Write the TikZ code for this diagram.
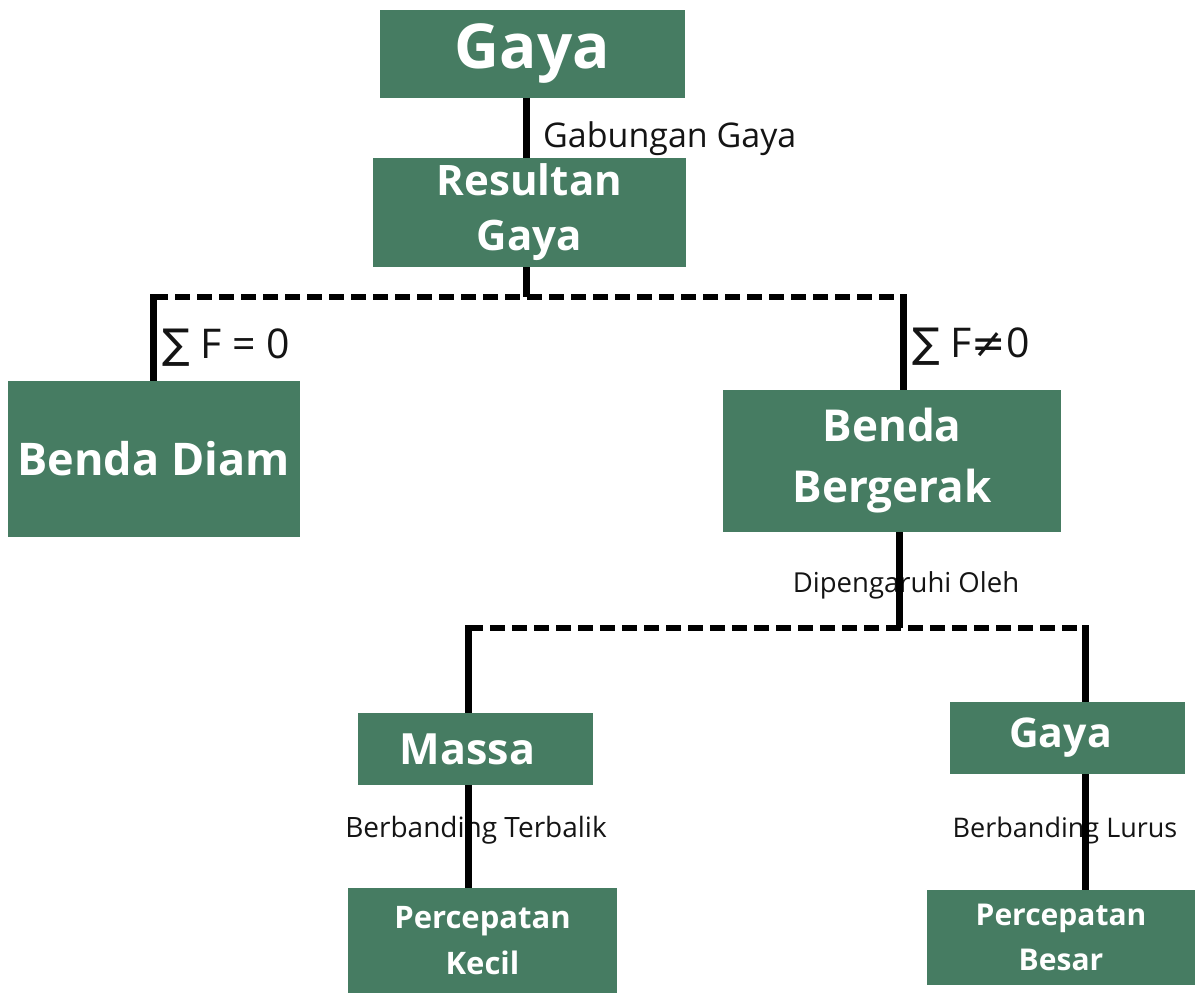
\documentclass[tikz,border=0pt]{standalone}
\usepackage{fontspec}
\setmainfont{Open Sans}
\newfontfamily\symfont{DejaVu Sans}
\definecolor{boxgreen}{RGB}{70,124,98}
\definecolor{inkblack}{RGB}{20,20,20}
\tikzset{
  box/.style={rectangle, fill=boxgreen, text=white, inner sep=0pt, align=center, font=\bfseries},
  lbl/.style={inner sep=0pt, text=inkblack},
  stem/.style={line width=7pt, black},
  bar/.style={line width=6.5pt, black, dash pattern=on 15pt off 7pt}
}

\begin{document}
\begin{tikzpicture}[x=1pt, y=-1pt]
  \useasboundingbox (0,0) rectangle (1196,997);
  \coordinate (j1)  at (526, 297);
  \coordinate (b1L) at (153, 297);
  \coordinate (b1R) at (903, 297);
  \coordinate (j2)  at (899, 628);
  \coordinate (b2L) at (468, 628);
  \coordinate (b2R) at (1085, 628);

  \node[box, minimum width=305pt, minimum height=88pt, font=\bfseries\fontsize{62}{74}\selectfont] (gaya) at (532.5, 53.5) {Gaya};
  \node[box, minimum width=313pt, minimum height=109pt, font=\bfseries\fontsize{42}{55}\selectfont] (resultan) at (529.5, 212.5) {Resultan\\Gaya};
  \node[box, minimum width=292pt, minimum height=156pt, font=\bfseries\fontsize{45}{56}\selectfont] (diam) at (153.5, 459) {Benda Diam};
  \node[box, minimum width=338pt, minimum height=142pt, font=\bfseries\fontsize{44}{61}\selectfont] (gerak) at (892, 461) {Benda\\Bergerak};
  \node[box, minimum width=235pt, minimum height=72pt, font=\bfseries\fontsize{43}{52}\selectfont] (massa) at (475.5, 749) {Massa\hspace*{16pt}};
  \node[box, minimum width=235pt, minimum height=72pt, font=\bfseries\fontsize{41}{52}\selectfont] (gayaB) at (1067.5, 738) {Gaya\hspace*{14pt}};
  \node[box, minimum width=269pt, minimum height=105pt, font=\bfseries\fontsize{31}{46}\selectfont] (kecil) at (482.5, 940.5) {Percepatan\\Kecil};
  \node[box, minimum width=268pt, minimum height=95pt, font=\bfseries\fontsize{30}{45}\selectfont] (besar) at (1061, 937.5) {Percepatan\\Besar};

  \node[lbl, anchor=base west, font=\fontsize{34}{40}\selectfont] (gabung) at (543, 147) {Gabungan Gaya};
  \node[lbl, anchor=base west, font=\fontsize{41}{48}\selectfont] (nol) at (162, 358) {{\symfont ∑} F = 0};
  \node[lbl, anchor=base west, font=\fontsize{41}{48}\selectfont] (takNol) at (912, 357) {{\symfont ∑} F{\symfont ≠}0};
  \node[lbl, anchor=base, font=\fontsize{27.5}{32}\selectfont] (pengaruh) at (906, 592) {Dipengaruhi Oleh};
  \node[lbl, anchor=base, font=\fontsize{28}{32}\selectfont] (terbalik) at (476, 837) {Berbanding Terbalik};
  \node[lbl, anchor=base, font=\fontsize{27}{32}\selectfont] (lurus) at (1065, 837) {Berbanding Lurus};

  \draw[stem] (gaya.south -| j1) -- (resultan.north -| j1);
  \draw[stem] (resultan.south -| j1) -- (j1);
  \draw[bar] (b1L) -- (b1R);
  \draw[stem] ([yshift=3pt]b1L) -- (diam.north -| b1L);
  \draw[stem] ([yshift=3pt]b1R) -- (gerak.north -| b1R);
  \draw[stem] (gerak.south -| j2) -- (j2);
  \draw[bar] (b2L) -- (b2R);
  \draw[stem] ([yshift=3pt]b2L) -- (massa.north -| b2L);
  \draw[stem] ([yshift=3pt]b2R) -- (gayaB.north -| b2R);
  \draw[stem] (massa.south -| b2L) -- (kecil.north -| b2L);
  \draw[stem] (gayaB.south -| b2R) -- (besar.north -| b2R);
\end{tikzpicture}
\end{document}
